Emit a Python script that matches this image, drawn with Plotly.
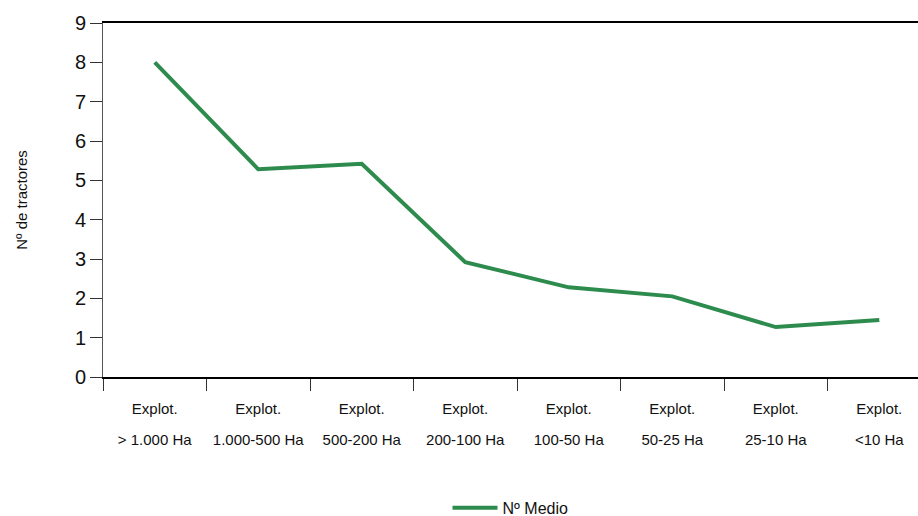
import plotly.graph_objects as go

tick_line1 = ["Explot."] * 8
tick_line2 = ["> 1.000 Ha", "1.000-500 Ha", "500-200 Ha", "200-100 Ha",
              "100-50 Ha", "50-25 Ha", "25-10 Ha", "<10 Ha"]
values = [8.0, 5.28, 5.42, 2.92, 2.28, 2.05, 1.27, 1.45]
series_name = "Nº Medio"
y_ticks = [0, 1, 2, 3, 4, 5, 6, 7, 8, 9]

positions = list(range(len(tick_line2)))
boundaries = [p - 0.5 for p in range(len(tick_line2) + 1)]
xr = [-0.5, 7.374]
lab_font = dict(family="Liberation Sans, Arial, sans-serif", size=15, color="#111")

fig = go.Figure()
fig.add_trace(go.Scatter(x=positions, y=values, mode="lines", name=series_name,
                         line=dict(color="#2E8B4E", width=4)))
# invisible helper trace for second line of category labels
fig.add_trace(go.Scatter(x=positions, y=values, mode="lines", xaxis="x2", showlegend=False,
                         hoverinfo="skip", line=dict(color="rgba(0,0,0,0)", width=0)))

fig.update_layout(
    width=918, height=516,
    margin=dict(l=103, r=0, t=23, b=139),
    plot_bgcolor="white", paper_bgcolor="white",
    showlegend=True,
    legend=dict(orientation="h", x=0.5, xanchor="center", yref="container",
                y=0.016, yanchor="middle", itemwidth=45,
                font=dict(family="Liberation Sans, Arial, sans-serif", size=16, color="#111")),
    xaxis=dict(range=xr, tickmode="array", tickvals=positions, ticktext=tick_line1,
               ticks="", showgrid=False, zeroline=False, automargin=False,
               ticklabelstandoff=17,
               showline=True, linecolor="black", linewidth=2, mirror=True,
               tickfont=lab_font,
               minor=dict(tickmode="array", tickvals=boundaries, ticks="outside", ticklen=12,
                          tickcolor="#333", tickwidth=1, showgrid=False)),
    xaxis2=dict(range=xr, overlaying="x", anchor="y", side="bottom",
                tickmode="array", tickvals=positions, ticktext=tick_line2,
                ticks="", showgrid=False, zeroline=False, showline=False, automargin=False,
                ticklabelstandoff=52, tickfont=lab_font),
    yaxis=dict(range=[0, 9], tickmode="array", tickvals=y_ticks, ticks="outside", ticklen=12,
               tickcolor="#333", showgrid=False, zeroline=False, automargin=False,
               showline=True, linecolor="#555", linewidth=1,
               tickfont=dict(family="Liberation Sans, Arial, sans-serif", size=20, color="#111"),
               title=dict(text="Nº de tractores", standoff=43,
                          font=dict(family="Liberation Sans, Arial, sans-serif", size=15, color="#111"))),
)

fig.write_html("out.html", config={"displayModeBar": False},
               post_script="document.body.style.margin='0';document.body.style.overflow='hidden';")
